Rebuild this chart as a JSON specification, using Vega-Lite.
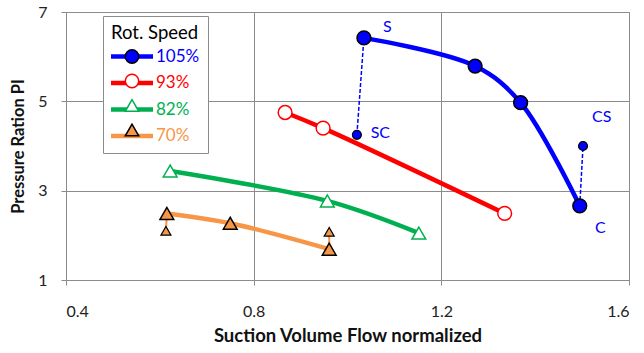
{
  "$schema": "https://vega.github.io/schema/vega-lite/v6.json",
  "width": 563,
  "height": 268,
  "autosize": {"type": "none"},
  "padding": {"left": 66, "top": 12, "right": 15, "bottom": 73},
  "background": "white",
  "config": {
    "font": "Lato",
    "view": {"stroke": "#8c8c8c", "strokeWidth": 1},
    "axis": {
      "grid": true,
      "gridColor": "#8c8c8c",
      "gridWidth": 1,
      "domainColor": "#8c8c8c",
      "tickColor": "#8c8c8c",
      "tickSize": 5,
      "labelFont": "Lato",
      "labelFontSize": 16,
      "labelColor": "#222222",
      "titleFont": "Lato",
      "titleFontWeight": "bold",
      "titleColor": "#111111"
    }
  },
  "datasets": {
    "curves": [
      {"series": "105%", "x": 1.035, "y": 6.42},
      {"series": "105%", "x": 1.272, "y": 5.79},
      {"series": "105%", "x": 1.369, "y": 4.97},
      {"series": "105%", "x": 1.495, "y": 2.66},
      {"series": "93%", "x": 0.867, "y": 4.75},
      {"series": "93%", "x": 0.948, "y": 4.4},
      {"series": "93%", "x": 1.335, "y": 2.49},
      {"series": "82%", "x": 0.622, "y": 3.44},
      {"series": "82%", "x": 0.957, "y": 2.77},
      {"series": "82%", "x": 1.152, "y": 2.05},
      {"series": "70%", "x": 0.615, "y": 2.49},
      {"series": "70%", "x": 0.75, "y": 2.27},
      {"series": "70%", "x": 0.961, "y": 1.69}
    ],
    "extras": [
      {"series": "105%", "x": 1.02, "y": 4.25},
      {"series": "105%", "x": 1.502, "y": 4.0},
      {"series": "70%", "x": 0.613, "y": 2.1},
      {"series": "70%", "x": 0.961, "y": 2.08}
    ],
    "links": [
      {"pair": "S-SC", "series": "105%", "x": 1.035, "y": 6.42},
      {"pair": "S-SC", "series": "105%", "x": 1.02, "y": 4.25},
      {"pair": "C-CS", "series": "105%", "x": 1.495, "y": 2.66},
      {"pair": "C-CS", "series": "105%", "x": 1.502, "y": 4.0},
      {"pair": "A", "series": "70%", "x": 0.615, "y": 2.49},
      {"pair": "A", "series": "70%", "x": 0.613, "y": 2.1},
      {"pair": "B", "series": "70%", "x": 0.961, "y": 1.69},
      {"pair": "B", "series": "70%", "x": 0.961, "y": 2.08}
    ],
    "notes": [
      {"label": "S", "x": 1.085, "y": 6.66},
      {"label": "SC", "x": 1.07, "y": 4.29},
      {"label": "CS", "x": 1.542, "y": 4.65},
      {"label": "C", "x": 1.539, "y": 2.16}
    ]
  },
  "encoding": {
    "x": {
      "field": "x",
      "type": "quantitative",
      "scale": {"domain": [0.4, 1.6], "nice": false, "zero": false},
      "axis": {
        "title": "Suction Volume Flow normalized",
        "titleFontSize": 18.5,
        "values": [0.4, 0.8, 1.2, 1.6],
        "format": ".1f",
        "labelPadding": 18,
        "titlePadding": 7
      }
    },
    "y": {
      "field": "y",
      "type": "quantitative",
      "scale": {"domain": [1, 7], "nice": false, "zero": false},
      "axis": {
        "title": "Pressure Ration PI",
        "titleFontSize": 16.5,
        "values": [1, 3, 5, 7],
        "format": "d",
        "labelPadding": 14,
        "titlePadding": 11
      }
    }
  },
  "layer": [
    {
      "data": {"name": "links"},
      "transform": [{"filter": "datum.series == '105%'"}],
      "mark": {"type": "line", "color": "#0000FF", "strokeWidth": 1.5, "strokeDash": [4, 2]},
      "encoding": {"detail": {"field": "pair"}}
    },
    {
      "data": {"name": "links"},
      "transform": [{"filter": "datum.series == '70%'"}],
      "mark": {"type": "line", "color": "#F79646", "strokeWidth": 2},
      "encoding": {"detail": {"field": "pair"}}
    },
    {
      "data": {"name": "curves"},
      "mark": {"type": "line", "interpolate": "catmull-rom", "strokeWidth": 4.5, "strokeCap": "round"},
      "encoding": {
        "color": {
          "field": "series",
          "type": "nominal",
          "sort": ["105%", "93%", "82%", "70%"],
          "scale": {"range": ["#0000FF", "#FF0000", "#00B050", "#F79646"]},
          "legend": {
            "orient": "none",
            "legendX": 37,
            "legendY": 4,
            "title": "Rot. Speed",
            "titleFont": "Lato",
            "titleFontSize": 18.5,
            "titleFontWeight": "normal",
            "titleColor": "#000000",
            "titlePadding": 5.5,
            "symbolType": "M-6,0H6",
            "symbolSize": 49,
            "symbolStrokeWidth": 4.5,
            "symbolOffset": 12.5,
            "labelFont": "Lato",
            "labelFontSize": 17,
            "labelOffset": 15.5,
            "labelExpr": "(length(datum.label) < 4 ? '\u00a0\u00a0' : '') + datum.label + '\u00a0'",
            "labelColor": {"expr": "datum.value == '105%' ? '#0000FF' : datum.value == '93%' ? '#FF0000' : datum.value == '82%' ? '#00B050' : '#F79646'"},
            "rowPadding": 7.5,
            "padding": 8,
            "fillColor": "#FFFFFF",
            "strokeColor": "#8c8c8c"
          }
        }
      }
    },
    {
      "data": {"name": "curves"},
      "mark": {"type": "point", "size": 190, "strokeWidth": 1.5, "opacity": 1},
      "encoding": {
        "shape": {
          "field": "series",
          "type": "nominal",
          "scale": {"domain": ["105%", "93%", "82%", "70%"], "range": ["circle", "circle", "triangle-up", "triangle-up"]},
          "legend": {
            "orient": "none",
            "legendX": 37,
            "legendY": 4,
            "title": "Rot. Speed",
            "titleFont": "Lato",
            "titleFontSize": 18.5,
            "titleFontWeight": "normal",
            "titleOpacity": 0,
            "titlePadding": 4,
            "symbolSize": 180,
            "symbolStrokeWidth": 1.5,
            "symbolOffset": 11,
            "labelFont": "Lato",
            "labelFontSize": 20,
            "labelOffset": -30,
            "labelExpr": "'\u00a0'",
            "labelOpacity": 0,
            "rowPadding": 4.5,
            "padding": 8
          }
        },
        "fill": {
          "field": "series",
          "type": "nominal",
          "scale": {"domain": ["105%", "93%", "82%", "70%"], "range": ["#0000FF", "#FFFFFF", "#FFFFFF", "#F79646"]}
        },
        "stroke": {
          "field": "series",
          "type": "nominal",
          "scale": {"domain": ["105%", "93%", "82%", "70%"], "range": ["#000000", "#FF0000", "#00B050", "#000000"]}
        }
      }
    },
    {
      "data": {"name": "extras"},
      "transform": [{"filter": "datum.series == '105%'"}],
      "mark": {"type": "point", "shape": "circle", "size": 80, "filled": true, "fill": "#0000FF", "stroke": "#000000", "strokeWidth": 1.2, "opacity": 1}
    },
    {
      "data": {"name": "extras"},
      "transform": [{"filter": "datum.series == '70%'"}],
      "mark": {"type": "point", "shape": "triangle-up", "size": 100, "filled": true, "fill": "#F79646", "stroke": "#000000", "strokeWidth": 1.2, "opacity": 1}
    },
    {
      "data": {"name": "notes"},
      "mark": {"type": "text", "font": "Lato", "fontSize": 16, "color": "#0000FF", "align": "center", "baseline": "middle"},
      "encoding": {"text": {"field": "label"}}
    }
  ]
}
